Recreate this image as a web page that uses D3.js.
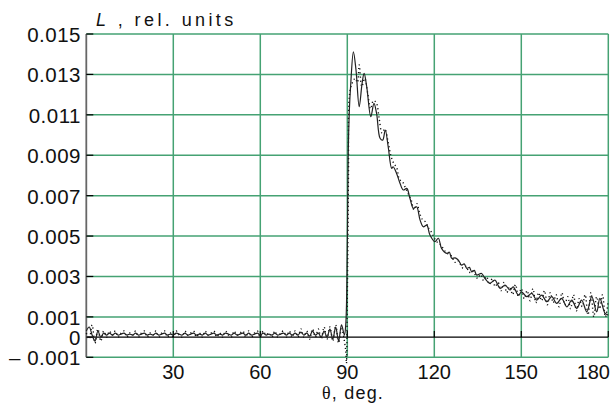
<!DOCTYPE html>
<html lang="en">
<head>
    <meta charset="UTF-8">
    <title>L vs theta</title>
    <script src="https://cdnjs.cloudflare.com/ajax/libs/d3/7.8.5/d3.min.js"></script>
    <style>
        body { margin: 0; background: #fff; font-family: "Liberation Sans", Arial, sans-serif; }
    </style>
</head>
<body>
    <div id="chart"></div>

    <script>
        // tick values
        var xTicks = [30, 60, 90, 120, 150, 180];
        var yTicks = [-0.001, 0, 0.001, 0.003, 0.005, 0.007, 0.009, 0.011, 0.013, 0.015];
        var yTickLabels = ["\u2013 0.001", "0", "0.001", "0.003", "0.005", "0.007", "0.009", "0.011", "0.013", "0.015"];

        // solid curve, flat part read at each degree 0..88
        var solidBase = [.0003,.0005,.0001,-.0002,.0003,.0000,.0002,.0001,.0002,.0001,
            .0002,.0001,.00015,.0002,.0001,.00015,.0001,.0002,.0001,.00015,
            .0002,.0001,.00015,.0001,.0002,.0001,.00015,.0002,.0001,.00015,
            .0001,.0002,.00015,.0001,.0002,.0001,.00015,.0002,.0001,.00015,
            .0001,.0002,.0001,.00015,.0002,.0001,.00015,.0001,.0002,.00015,
            .0001,.0002,.0001,.00015,.0002,.0001,.0002,.0001,.00015,.0002,
            .0001,.0002,.0001,.00015,.0001,.0002,.0001,.00015,.0002,.0001,
            .0002,.0001,.0002,.0001,.00025,.0001,.0002,.00005,.0003,.0001,
            .0002,.0000,.0003,.0000,.0004,-.0001,.0005,-.0002,.0006];

        // solid curve, peak and tail
        var solidTheta = [89, 89.5, 90.0, 90.3, 90.7, 91.2, 92.1, 93.0, 94.1, 95.1, 95.8, 96.7, 98.1, 99.2,
            100.1, 101.3, 102.2, 103.1, 104.1, 105.3, 105.8, 107.0, 108.2, 109.3, 110.5, 111.6, 112.8,
            113.9, 115.1, 116.2, 117.4, 118.5, 120.2, 121.4, 122.5, 124.3, 125.2, 126.0, 127.2, 128.3,
            129.4, 130.3, 131.2, 132.1, 132.9, 133.8, 134.6, 136.3, 137.5, 139.2, 140.9, 142.7, 144.4,
            146.1, 147.2, 149.0, 150.1, 151.9, 153.6, 155.3, 157.0, 158.8, 160.5, 162.2, 163.9, 165.7,
            167.4, 169.1, 170.8, 172.6, 174.3, 176.0, 177.1, 178.9, 180];
        var solidL = [.0001, .0007, .0045, .0089, .0112, .01256, .01412, .01322, .0114, .01256, .01305, .01239, .01091, .01157,
            .01107, .00984, .00975, .01025, .00942, .00835, .00843, .0081, .0076, .00728, .00736, .00687, .00637,
            .00645, .00579, .00546, .00554, .00505, .00472, .00489, .00439, .00414, .0042, .0039, .00392, .00381,
            .00356, .00362, .0034, .00345, .00323, .0033, .00307, .00315, .0029, .00266, .00282, .00241, .00257,
            .00233, .00249, .00208, .00224, .002, .00216, .00183, .00208, .00175, .002, .00167, .00192, .0015,
            .00183, .00142, .00183, .00125, .002, .00125, .00192, .00117, .00109];

        // dotted curve, flat part read at each degree 0..88
        var dotBase = [.0002,-.0001,.0006,-.0003,.0004,-.0002,.0003,.0000,.0003,.0001,
            .0003,.0000,.0002,.0003,.0000,.0002,.0001,.0003,.0000,.0002,
            .0003,.0000,.0002,.0001,.0003,.0000,.0002,.0003,.0000,.0002,
            .0000,.0003,.0001,.0000,.0003,.0001,.0002,.0003,.0000,.0002,
            .0000,.0003,.0001,.0002,.0003,.0000,.0002,.0000,.0003,.0001,
            .0000,.0003,.0001,.0002,.0003,.0000,.0003,.0000,.0002,.0003,
            .0000,.0003,.0001,.0002,.0000,.0003,.0000,.0002,.0003,.0000,
            .0003,.0000,.0003,.0000,.0004,.0000,.0003,-.0001,.0004,.0000,
            .0004,-.0001,.0005,-.0001,.0005,-.0002,.0006,-.0003,.0004];

        // dotted curve, peak and tail
        var dotTheta = [89.4, 89.7, 90.0, 90.4, 90.7, 91.5, 92.7, 93.5, 94.1, 95, 96, 97, 98, 99,
            100, 101, 102, 103, 104, 105, 106, 107, 108, 109, 110, 111, 112, 113, 114, 115, 116, 117, 118, 119,
            120, 121, 122, 123, 124, 125, 126, 127, 128, 129, 130, 131, 132, 133, 134, 135, 136, 137, 138, 139,
            140, 141, 142, 143, 144, 145, 146, 147, 148, 149, 150, 151, 152, 153, 154, 155, 156, 157, 158, 159,
            160, 161, 162, 163, 164, 165, 166, 167, 168, 169, 170, 171, 172, 173, 174, 175, 176, 177, 178, 179, 180];
        var dotL = [-.0006, -.0013, .002, .008, .0119, .0125, .0128, .0126, .01347, .0124, .0128, .0121, .0113, .0117,
            .0116, .0108, .0101, .0103, .0097, .0090, .0086, .0084, .0078, .0077, .0074, .0071, .0068, .0063, .0066, .0061, .0058, .0057, .0054, .0052,
            .0049, .0047, .0046, .0044, .0042, .0041, .0040, .0037, .0038, .0036, .0034, .0035, .0032, .0033, .0031, .0029, .0031, .0028, .0030, .0026,
            .0029, .0025, .0027, .0023, .0027, .0022, .0025, .0021, .0026, .0020, .0024, .0019, .0023, .0018, .0024, .0017, .0022, .0018, .0023, .0016,
            .0022, .0017, .0021, .0015, .0022, .0016, .0020, .0014, .0021, .0013, .0019, .0015, .0021, .0011, .0022, .0010, .0020, .0014, .0021, .0010, .0018];

        var W = 615, H = 405;
        var grid = "#45a273";

        var svg = d3.select("#chart").append("svg")
            .attr("width", W)
            .attr("height", H);

        var x = d3.scaleLinear().domain([0, 180]).range([86.3, 608.3]);
        var y = d3.scaleLinear().domain([-0.001, 0.015]).range([357.3, 34]);

        function toPoints(base, th, vals) {
            var pts = base.map(function(v, i) { return {t: i, v: v}; });
            th.forEach(function(t, i) { pts.push({t: t, v: vals[i]}); });
            return pts;
        }
        var solid = toPoints(solidBase, solidTheta, solidL);
        var dotted = toPoints(dotBase, dotTheta, dotL);

        // grid
        svg.append("g").selectAll("line.gx")
            .data(xTicks)
            .enter().append("line")
            .attr("x1", function(d) { return x(d); })
            .attr("x2", function(d) { return x(d); })
            .attr("y1", y(0.015))
            .attr("y2", y(-0.001))
            .attr("stroke", grid)
            .attr("stroke-width", 1.5);

        svg.append("g").selectAll("line.gy")
            .data(yTicks.filter(function(d) { return d !== 0; }))
            .enter().append("line")
            .attr("x1", x(0))
            .attr("x2", x(180))
            .attr("y1", function(d) { return y(d); })
            .attr("y2", function(d) { return y(d); })
            .attr("stroke", grid)
            .attr("stroke-width", 1.5);

        // zero line with ticks
        svg.append("line")
            .attr("x1", x(0)).attr("x2", x(180))
            .attr("y1", y(0)).attr("y2", y(0))
            .attr("stroke", "#000").attr("stroke-width", 1.2);
        svg.append("g").selectAll("line")
            .data(xTicks)
            .enter().append("line")
            .attr("x1", function(d) { return x(d); })
            .attr("x2", function(d) { return x(d); })
            .attr("y1", y(0))
            .attr("y2", y(0) - 6)
            .attr("stroke", "#000").attr("stroke-width", 1.2);

        // left axis
        svg.append("line")
            .attr("x1", x(0)).attr("x2", x(0))
            .attr("y1", y(0.015)).attr("y2", y(-0.001))
            .attr("stroke", "#666").attr("stroke-width", 1.8);
        svg.append("g").selectAll("line")
            .data(yTicks)
            .enter().append("line")
            .attr("x1", x(0))
            .attr("x2", x(0) + 7)
            .attr("y1", function(d) { return y(d); })
            .attr("y2", function(d) { return y(d); })
            .attr("stroke", "#000").attr("stroke-width", 1.2);

        // curves
        var line = d3.line()
            .x(function(d) { return x(d.t); })
            .y(function(d) { return y(d.v); })
            .curve(d3.curveCatmullRom.alpha(0.5));

        svg.append("path")
            .datum(dotted)
            .attr("fill", "none")
            .attr("stroke", "#111")
            .attr("stroke-width", 1.4)
            .attr("stroke-dasharray", "1.2,2.8")
            .attr("d", line);

        svg.append("path")
            .datum(solid)
            .attr("fill", "none")
            .attr("stroke", "#222")
            .attr("stroke-width", 1.2)
            .attr("d", line);

        // tick labels
        svg.append("g").selectAll("text")
            .data(yTicks)
            .enter().append("text")
            .attr("x", 81)
            .attr("y", function(d) { return y(d) + 8; })
            .attr("text-anchor", "end")
            .attr("font-size", 20.5)
            .attr("letter-spacing", 0.5)
            .attr("fill", "#111")
            .text(function(d, i) { return yTickLabels[i]; });

        svg.append("g").selectAll("text")
            .data(xTicks)
            .enter().append("text")
            .attr("x", function(d, i) { return i === xTicks.length - 1 ? 610 : x(d); })
            .attr("y", 379)
            .attr("text-anchor", function(d, i) { return i === xTicks.length - 1 ? "end" : "middle"; })
            .attr("font-size", 20)
            .attr("fill", "#111")
            .text(function(d) { return d; });

        // axis titles
        var yt = svg.append("text")
            .attr("x", 96)
            .attr("y", 26)
            .attr("font-size", 18)
            .attr("letter-spacing", 3.4)
            .attr("fill", "#111");
        yt.append("tspan").attr("font-style", "italic").text("L");
        yt.append("tspan").text(" , rel. units");

        var xt = svg.append("text")
            .attr("x", 322)
            .attr("y", 399)
            .attr("font-size", 18)
            .attr("letter-spacing", 1.2)
            .attr("fill", "#111");
        xt.append("tspan").attr("font-family", "Liberation Serif, serif").text("\u03b8");
        xt.append("tspan").text(", deg.");
    </script>
</body>
</html>
